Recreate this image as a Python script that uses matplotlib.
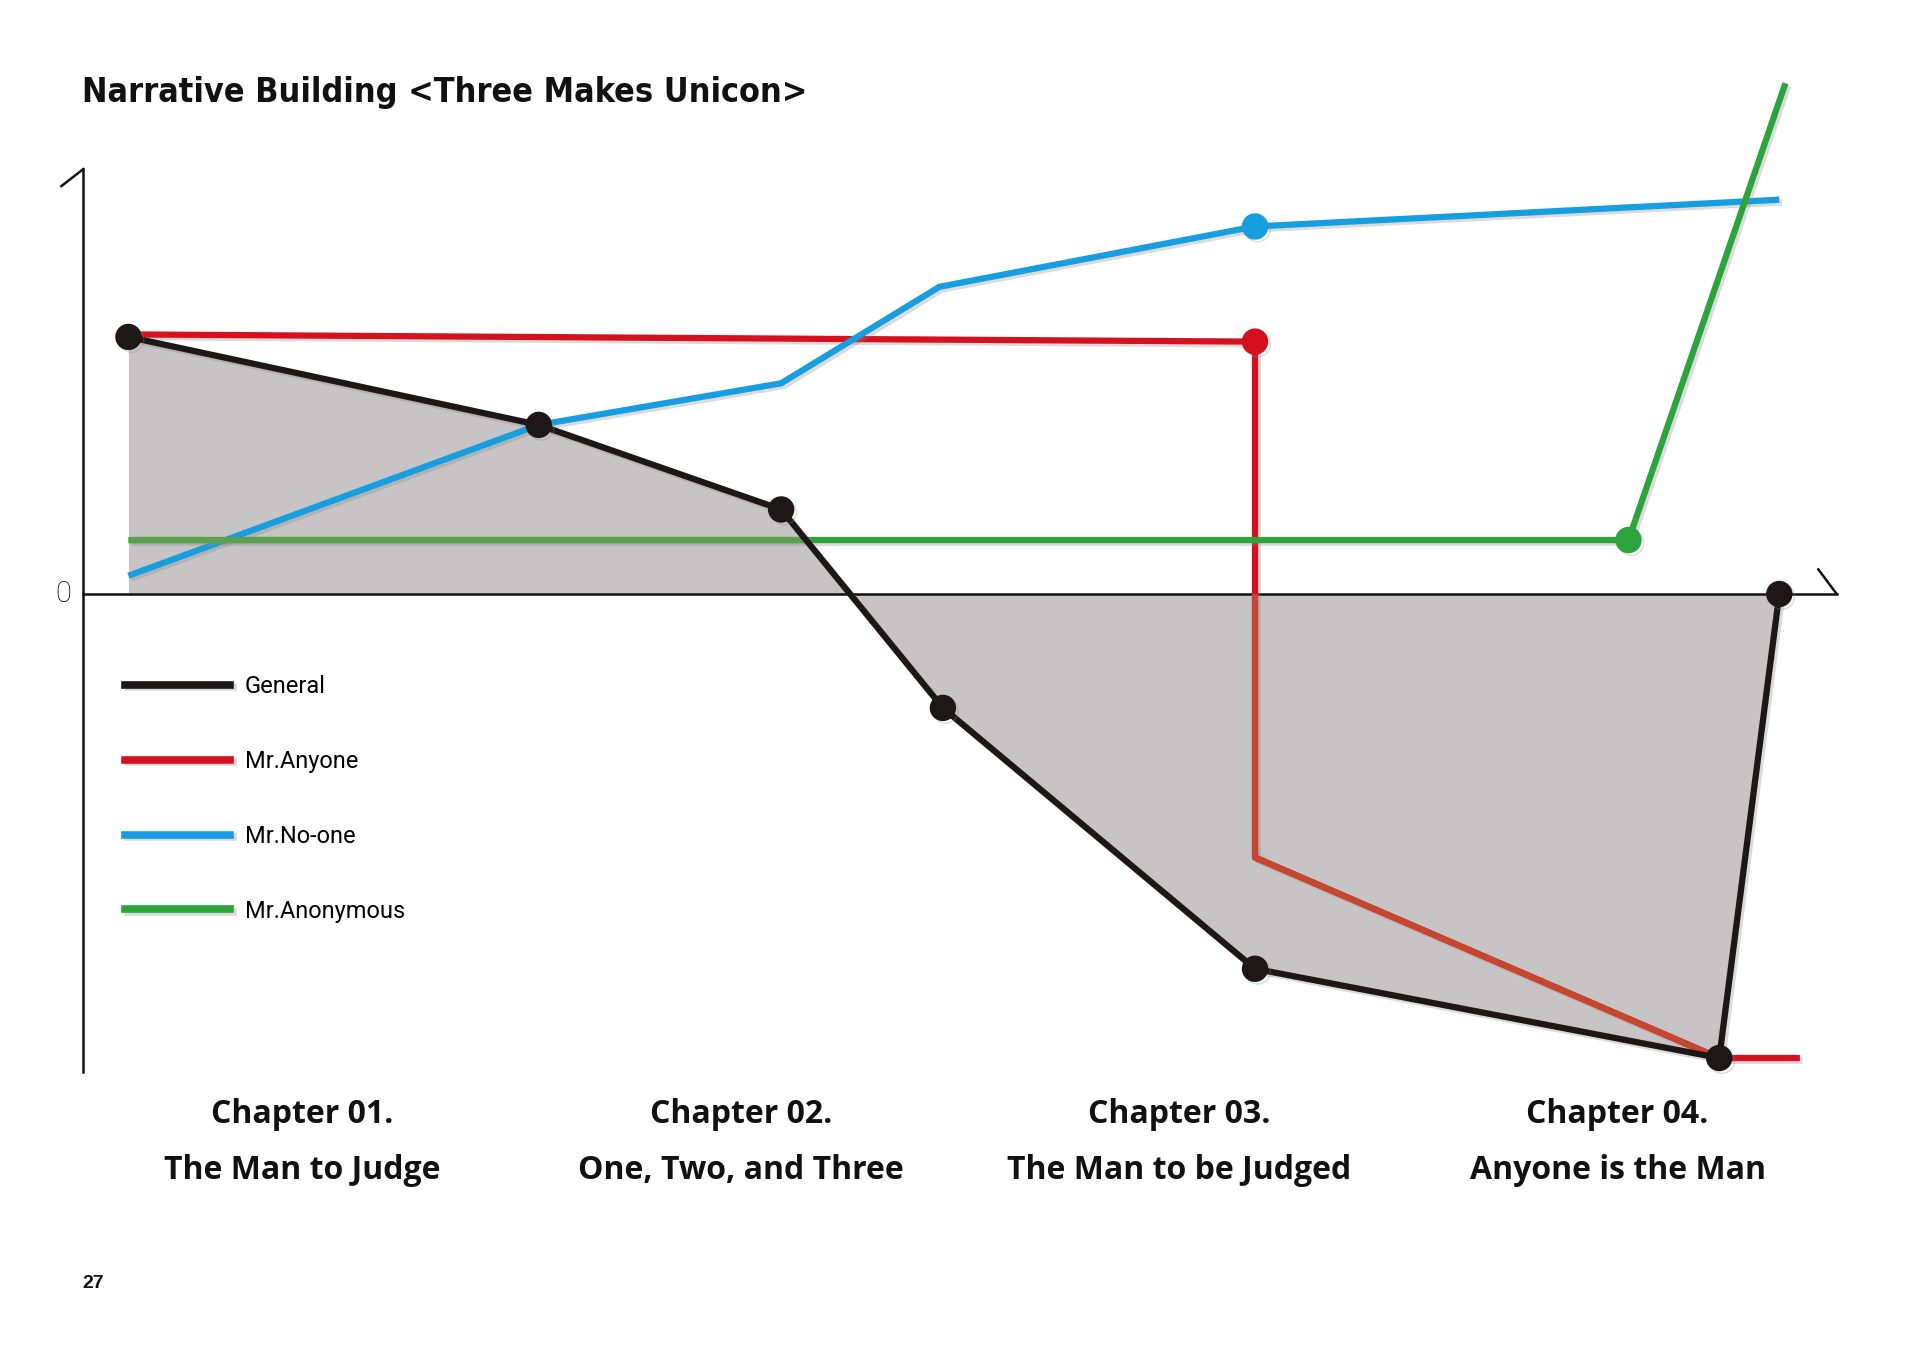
import numpy as np
import matplotlib
matplotlib.use("Agg")
import matplotlib.pyplot as plt
import matplotlib.patheffects as pe
from matplotlib import font_manager

# x: chapter units (chapter n centred at n-0.5), y: 0 line = 0, axis top = 1
general_x = [0.103, 1.039, 1.592, 1.961, 2.673, 3.732, 3.869]
general_y = [0.605, 0.398, 0.199, -0.268, -0.882, -1.092, 0.0]

anyone_x = [0.103, 2.673, 2.673, 3.732, 3.916]
anyone_y = [0.611, 0.594, -0.620, -1.092, -1.092]
anyone_marks = [1]

noone_x = [0.103, 1.039, 1.592, 1.953, 2.673, 3.869]
noone_y = [0.043, 0.398, 0.496, 0.723, 0.865, 0.928]
noone_marks = [4]

anon_x = [0.103, 3.525, 3.883]
anon_y = [0.127, 0.127, 1.202]
anon_marks = [1]

chapters = ["Chapter 01.\nThe Man to Judge", "Chapter 02.\nOne, Two, and Three",
            "Chapter 03.\nThe Man to be Judged", "Chapter 04.\nAnyone is the Man"]
chapter_pos = [0.5, 1.5, 2.5, 3.5]

names = ["General", "Mr.Anyone", "Mr.No-one", "Mr.Anonymous"]
colors = ["#1e1717", "#d5111f", "#179ee0", "#2aa43b"]
under_gray = {"Mr.Anyone": "#c7462f", "Mr.Anonymous": "#5c9f4e"}

fig = plt.figure(figsize=(19.2, 13.58), dpi=100)
ax = fig.add_axes([0, 0, 1, 1])
ax.set_xlim(-0.190, 4.190)
ax.set_ylim(-1.798, 1.398)
ax.axis("off")

shadow = [pe.SimpleLineShadow(offset=(2, -2), shadow_color="#888888", alpha=0.3), pe.Normal()]

# gray area under the general line
fill = ax.fill_between(general_x, general_y, 0, color="#c6c4c4", lw=0, zorder=1)
clip = fill.get_paths()[0]

# axes
ax.plot([0, 0], [-1.124, 1.0], color="#111111", lw=1.8, zorder=2)
ax.plot([-0.05, 0], [0.96, 1.0], color="#111111", lw=1.8, zorder=2)
ax.plot([0, 4.0], [0, 0], color="#111111", lw=1.8, zorder=2)
ax.plot([3.958, 4.0], [0.058, 0], color="#111111", lw=1.8, zorder=2)
ax.text(-0.045, 0, "0", fontsize=21, family="Roboto", weight="light", ha="center", va="center")

series = [
    (names[1], anyone_x, anyone_y, anyone_marks, colors[1], 3),
    (names[2], noone_x, noone_y, noone_marks, colors[2], 4),
    (names[3], anon_x, anon_y, anon_marks, colors[3], 5),
    (names[0], general_x, general_y, list(range(len(general_x))), colors[0], 6),
]
for name, xs, ys, marks, c, z in series:
    ax.plot(xs, ys, color=c, lw=4.5, zorder=z, solid_capstyle="butt",
            marker="o", markevery=marks, markersize=18, path_effects=shadow)
    if name in under_gray:
        over, = ax.plot(xs, ys, color=under_gray[name], lw=4.5, zorder=z + 0.1,
                        solid_capstyle="butt")
        over.set_clip_path(clip, ax.transData)

leg_handles = [plt.Line2D([], [], color=c, lw=5.5, path_effects=shadow) for c in colors]
ax.legend(leg_handles, names, loc="upper left", bbox_to_anchor=(0.065, 0.503),
          frameon=False, borderpad=0, borderaxespad=0,
          handlelength=4.45, handletextpad=0.62, labelspacing=2.2,
          prop=font_manager.FontProperties(family="Roboto", weight="normal", size=17))

for x, lab in zip(chapter_pos, chapters):
    ax.text(x, -1.292, lab, ha="center", va="center", fontsize=23, weight="bold",
            family="Open Sans", linespacing=1.92, color="#111111")

ax.text(-0.003, 1.18, "Narrative Building <Three Makes Unicon>", ha="left", va="center",
        fontsize=24.5, weight="bold", family="DejaVu Sans", stretch="condensed", color="#111111")
ax.text(-0.003, -1.622, "27", ha="left", va="center", fontsize=14, weight="bold",
        family="Liberation Sans", color="#111111")

fig.savefig("out.png", dpi=100)
